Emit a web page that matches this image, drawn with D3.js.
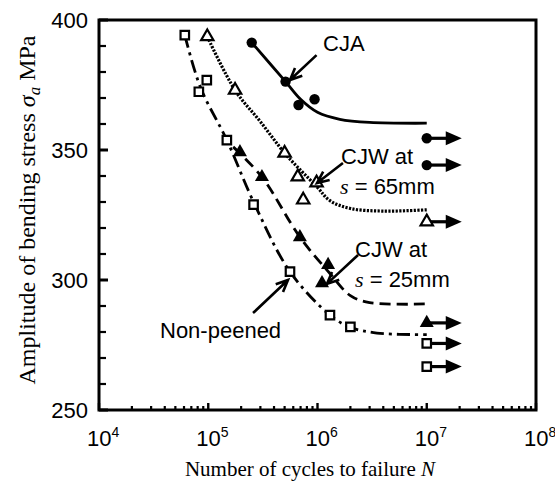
<!DOCTYPE html>
<html>
<head>
<meta charset="utf-8">
<script src="https://cdn.jsdelivr.net/npm/d3@7"></script>
<style>
  html,body{margin:0;padding:0;background:#fff;}
  svg{display:block;}
</style>
</head>
<body>
<svg id="chart" width="555" height="484"></svg>
<script>
// tick values
const xTicks=[1e4,1e5,1e6,1e7,1e8];
const yTicks=[250,300,350,400];

// measured points (cycles N, stress amplitude MPa)
const nonPeenedN=[6.1e4,9.7e4,8.2e4,1.48e5,2.6e5,5.6e5,1.3e6,2.0e6];
const nonPeenedS=[394.2,376.9,372.4,353.8,329,303.2,286.5,282];
const cjaN=[2.5e5,5.1e5,6.7e5,9.4e5];
const cjaS=[391.3,376.3,367.3,369.5];
const cjw65N=[9.8e4,1.76e5,5.0e5,6.6e5,9.8e5,7.4e5];
const cjw65S=[393.6,373,348.8,339.7,337.4,330.8];
const cjw25N=[1.95e5,3.1e5,6.9e5,1.25e6,1.1e6];
const cjw25S=[349.2,339.6,316.5,305.8,298.8];

// run-outs at 1e7 cycles
const runoutN=1e7;
const cjaRunS=[354.5,344.2];
const cjw65RunS=[322.4];
const cjw25RunS=[283.5];
const nonPeenedRunS=[275.6,266.7];

// fitted curves
const cjaFitN=[2.5e5,5.1e5,7.0e5,1.0e6,1.6e6,3.0e6,1e7];
const cjaFitS=[391.3,376.3,369.5,364.5,361.8,360.6,360.3];
const cjw65FitN=[9.8e4,1.76e5,3.0e5,5.2e5,9.8e5,1.3e6,2.0e6,4.0e6,1e7];
const cjw65FitS=[393.6,373,360.9,348,336,330.5,327.5,326.5,327];
const cjw25FitN=[1.69e5,3.1e5,6.9e5,1.3e6,2.0e6,3.0e6,1e7];
const cjw25FitS=[351.2,339.6,316.5,302.5,294,291.3,290.8];
const nonPeenedFitN=[6.1e4,8.5e4,1.48e5,2.6e5,5.6e5,1.3e6,2.0e6,3.5e6,1e7];
const nonPeenedFitS=[394.2,374,353.8,330,303.2,286.5,281.8,279.6,279];

// annotation arrows: [tailN, tailS, headN, headS]
const cjaArrow=[9.8e5,386.5,5.6e5,376.9];
const cjw65Arrow=[1.71e6,345,9.9e5,337.3];
const cjw25Arrow=[2.35e6,309.6,1.22e6,298.5];
const nonPeenedArrow=[2.57e5,287.3,5.37e5,300];

const svg=d3.select("#chart");
const m={left:99,right:19,top:20,bottom:74};
const W=555,H=484;
const x=d3.scaleLog().domain([1e4,1e8]).range([m.left,W-m.right]);
const y=d3.scaleLinear().domain([250,400]).range([H-m.bottom,m.top]);

const zip=(a,b)=>a.map((v,i)=>[v,b[i]]);
const line=d3.line().x(d=>x(d[0])).y(d=>y(d[1])).curve(d3.curveCatmullRom.alpha(0.5));

const g=svg.append("g");

// curves
const curves=[
  {pts:zip(cjaFitN,cjaFitS),dash:null,w:2.8},
  {pts:zip(cjw65FitN,cjw65FitS),dash:"2.2,1.4",w:3.2},
  {pts:zip(cjw25FitN,cjw25FitS),dash:"11,6",w:2.8},
  {pts:zip(nonPeenedFitN,nonPeenedFitS),dash:"13,5,3,5",w:2.8}
];
g.selectAll(".fit").data(curves).join("path")
  .attr("class","fit")
  .attr("d",d=>line(d.pts))
  .attr("fill","none")
  .attr("stroke","#000")
  .attr("stroke-width",d=>d.w)
  .attr("stroke-dasharray",d=>d.dash);

// run-out arrows
const runs=[...cjaRunS,...cjw65RunS,...cjw25RunS,...nonPeenedRunS];
const ra=g.selectAll(".run").data(runs).join("g").attr("class","run")
  .attr("transform",d=>`translate(${x(runoutN)},${y(d)})`);
ra.append("line").attr("x1",0).attr("x2",22).attr("y1",0).attr("y2",0)
  .attr("stroke","#000").attr("stroke-width",3.2);
ra.append("path").attr("d","M19,-7L35,0L19,7Z").attr("fill","#000");

// markers
const sqSym=d3.symbol().type(d3.symbolSquare).size(72);
const triSym=d3.symbol().type(d3.symbolTriangle);
const circSym=d3.symbol().type(d3.symbolCircle).size(85);

function marks(N,S,type){
  const pts=zip(N,S);
  const sel=g.append("g").selectAll("path").data(pts).join("path")
    .attr("transform",d=>`translate(${x(d[0])},${y(d[1])})`);
  if(type==="sq") sel.attr("d",sqSym()).attr("fill","#fff").attr("stroke","#000").attr("stroke-width",2.2);
  if(type==="tri") sel.attr("d",triSym.size(66)()).attr("fill","#fff").attr("stroke","#000").attr("stroke-width",2.2);
  if(type==="ftri") sel.attr("d",triSym.size(85)()).attr("fill","#000");
  if(type==="circle") sel.attr("d",circSym()).attr("fill","#000");
}
marks(nonPeenedN,nonPeenedS,"sq");
marks(cjw65N,cjw65S,"tri");
marks(cjw25N,cjw25S,"ftri");
marks(cjaN,cjaS,"circle");
marks(cjaRunS.map(()=>runoutN),cjaRunS,"circle");
marks(cjw65RunS.map(()=>runoutN),cjw65RunS,"tri");
marks(cjw25RunS.map(()=>runoutN),cjw25RunS,"ftri");
marks(nonPeenedRunS.map(()=>runoutN),nonPeenedRunS,"sq");

// annotation arrows (open heads)
function annArrow(a){
  const x1=x(a[0]),y1=y(a[1]),x2=x(a[2]),y2=y(a[3]);
  const ang=Math.atan2(y2-y1,x2-x1),L=13,sp=0.42;
  const p=d3.path();
  p.moveTo(x1,y1);p.lineTo(x2,y2);
  p.moveTo(x2-L*Math.cos(ang-sp),y2-L*Math.sin(ang-sp));p.lineTo(x2,y2);
  p.lineTo(x2-L*Math.cos(ang+sp),y2-L*Math.sin(ang+sp));
  g.append("path").attr("d",p.toString()).attr("fill","none")
    .attr("stroke","#000").attr("stroke-width",2.6);
}
[cjaArrow,cjw65Arrow,cjw25Arrow,nonPeenedArrow].forEach(annArrow);

// annotation text
const sans="Arial, 'Liberation Sans', sans-serif";
const serif="'Times New Roman', 'Liberation Serif', serif";
function label(tx,ty,parts){
  const t=svg.append("text").attr("x",tx).attr("y",ty)
    .attr("font-family",sans).attr("font-size",22).attr("fill","#000");
  parts.forEach(p=>{
    const s=t.append("tspan").text(p.t);
    if(p.it) s.attr("font-family",serif).attr("font-style","italic");
  });
}
label(323,51,[{t:"CJA"}]);
label(341,164,[{t:"CJW at"}]);
label(340,194,[{t:"s",it:true},{t:" = 65mm"}]);
label(355,257,[{t:"CJW at"}]);
label(355,287,[{t:"s",it:true},{t:" = 25mm"}]);
label(160,338,[{t:"Non-peened"}]);

// frame
svg.append("rect").attr("x",m.left).attr("y",m.top)
  .attr("width",W-m.right-m.left).attr("height",H-m.bottom-m.top)
  .attr("fill","none").attr("stroke","#000").attr("stroke-width",3);

// y axis ticks (inward)
const yAxis=svg.append("g").attr("transform",`translate(${m.left},0)`);
const yMinor=d3.range(250,401,10).filter(v=>!yTicks.includes(v));
yAxis.selectAll(".ym").data(yMinor).join("line")
  .attr("x1",0).attr("x2",7).attr("y1",d=>y(d)).attr("y2",d=>y(d))
  .attr("stroke","#000").attr("stroke-width",2.2);
yAxis.selectAll(".yM").data(yTicks).join("line")
  .attr("x1",0).attr("x2",9).attr("y1",d=>y(d)).attr("y2",d=>y(d))
  .attr("stroke","#000").attr("stroke-width",3);
yAxis.selectAll(".yl").data(yTicks).join("text")
  .attr("x",-11).attr("y",d=>y(d)).attr("dy","0.36em")
  .attr("text-anchor","end").attr("font-family",sans).attr("font-size",22)
  .text(d=>d);

// x axis ticks (inward)
const xAxis=svg.append("g").attr("transform",`translate(0,${H-m.bottom})`);
const xMinor=[];
xTicks.slice(0,-1).forEach(dec=>{for(let k=2;k<10;k++) xMinor.push(dec*k);});
xAxis.selectAll(".xm").data(xMinor).join("line")
  .attr("x1",d=>x(d)).attr("x2",d=>x(d)).attr("y1",0).attr("y2",-4)
  .attr("stroke","#000").attr("stroke-width",2.2);
xAxis.selectAll(".xM").data(xTicks).join("line")
  .attr("x1",d=>x(d)).attr("x2",d=>x(d)).attr("y1",0).attr("y2",-7)
  .attr("stroke","#000").attr("stroke-width",2.4);
const xl=xAxis.selectAll(".xl").data(xTicks).join("text")
  .attr("x",d=>x(d)-12).attr("y",36)
  .attr("font-family",sans).attr("font-size",22);
xl.append("tspan").text("10");
xl.append("tspan").attr("dy",-9).attr("font-size",14).text(d=>Math.round(Math.log10(d)));

// axis titles
const xt=svg.append("text").attr("x",310).attr("y",476).attr("text-anchor","middle")
  .attr("font-family",serif).attr("font-size",21);
xt.append("tspan").text("Number of cycles to failure  ");
xt.append("tspan").attr("font-style","italic").text("N");

const yt=svg.append("text").attr("transform","translate(35,210) rotate(-90)")
  .attr("text-anchor","middle").attr("font-family",serif).attr("font-size",24);
yt.append("tspan").text("Amplitude of bending stress  ");
yt.append("tspan").attr("font-style","italic").text("σ");
yt.append("tspan").attr("font-style","italic").attr("font-size",17).attr("dy",5).text("a");
yt.append("tspan").attr("dy",-5).text("  MPa");
</script>
</body>
</html>
